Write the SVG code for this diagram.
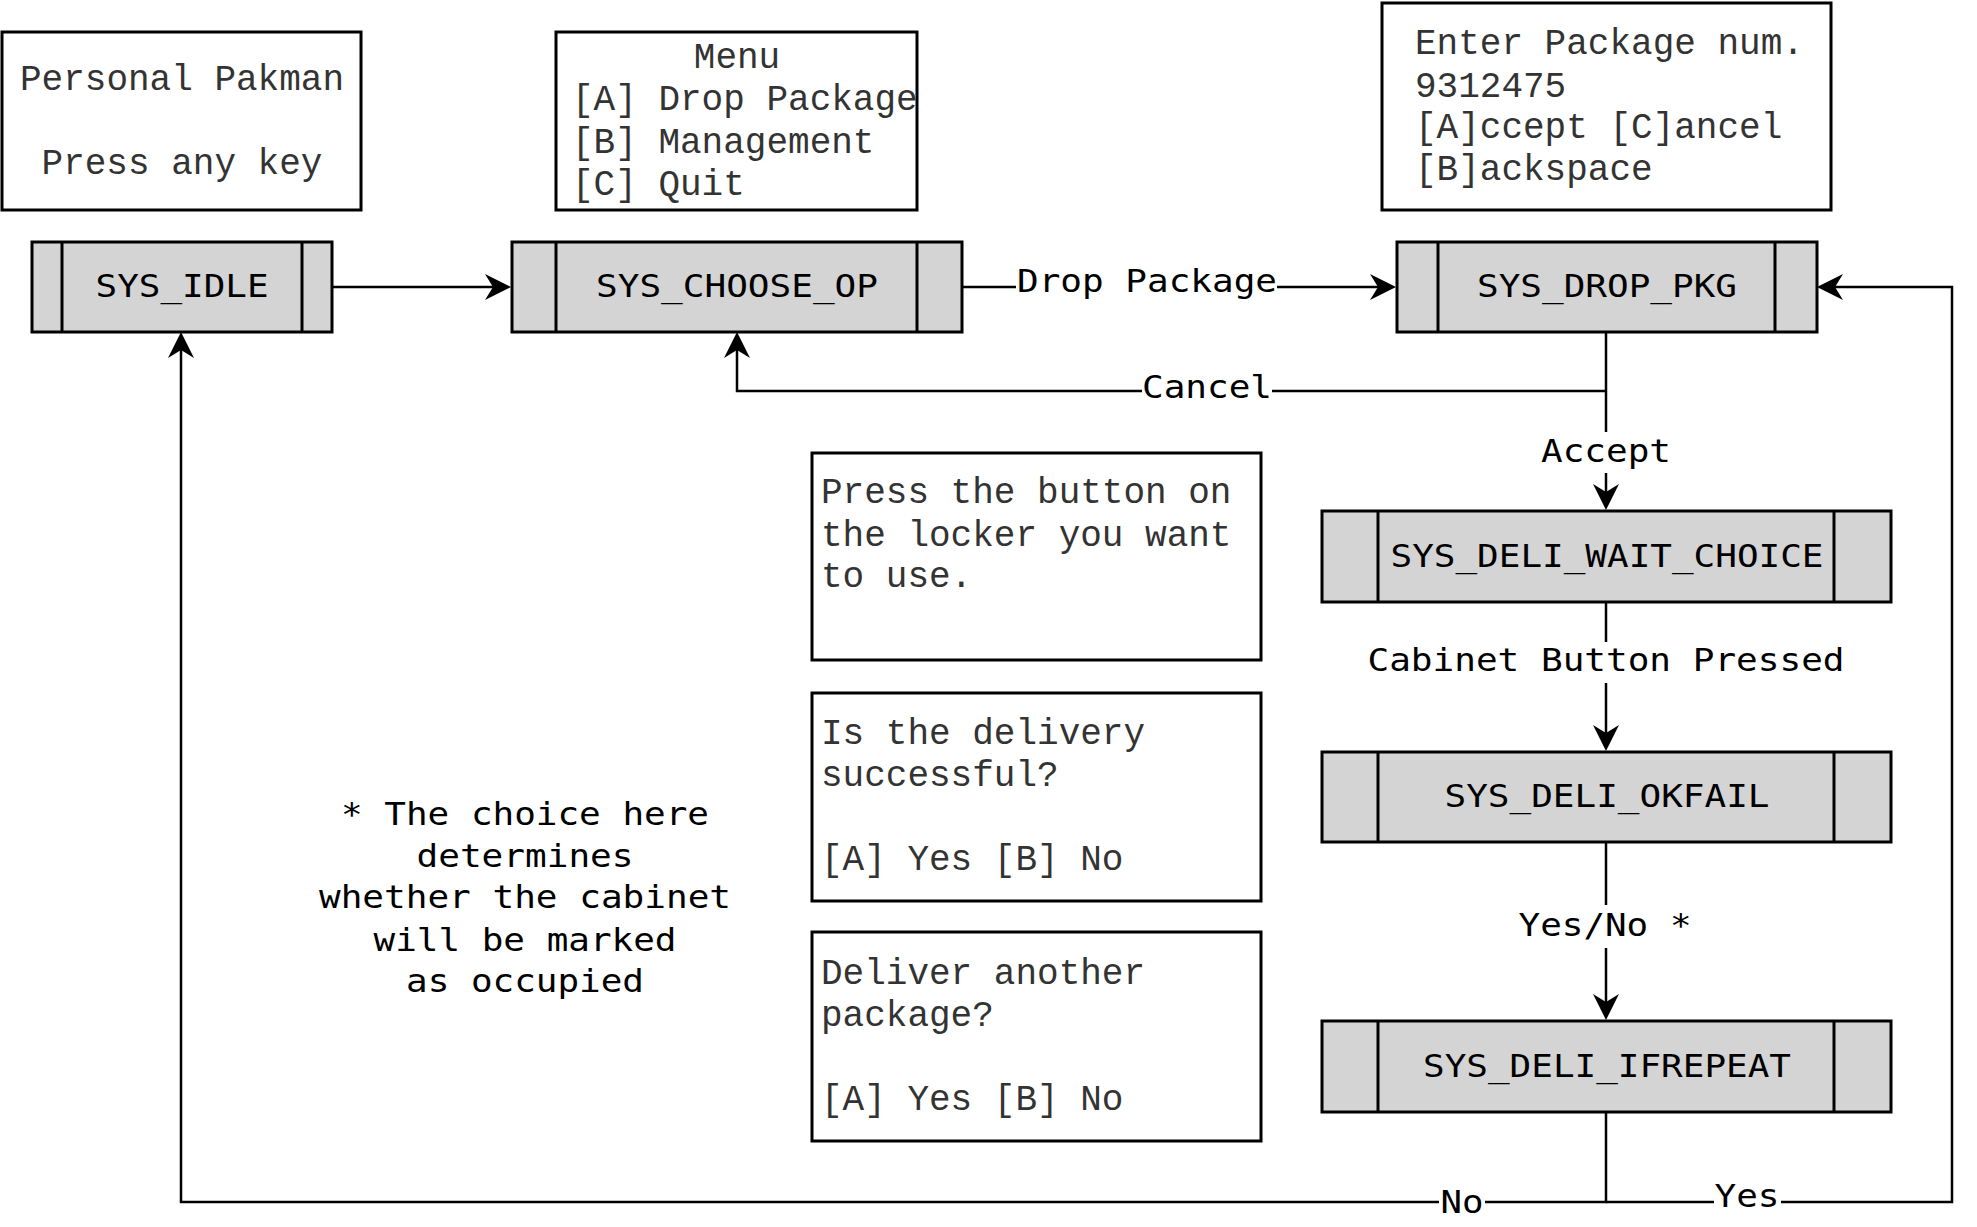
<svg xmlns="http://www.w3.org/2000/svg" width="1977" height="1227" viewBox="0 0 1977 1227">
<defs>
<style>
.screen{fill:#ffffff;stroke:#000;stroke-width:3}
.state{fill:#d4d4d4;stroke:#000;stroke-width:3}
.bar{stroke:#000;stroke-width:3;fill:none}
.st{font-family:'DejaVu Sans Mono',monospace;font-size:32px;fill:#000;text-anchor:middle}
.lbl{font-family:'DejaVu Sans Mono',monospace;font-size:32px;fill:#000;text-anchor:middle}
.scr{font-family:'Liberation Mono','Courier New',monospace;font-size:36px;fill:#333333}
.mid{text-anchor:middle}
.conn{fill:none;stroke:#000;stroke-width:2.5}
.lblbg{fill:#ffffff}
</style>
<marker id="arr" viewBox="-9 -14 28 28" markerWidth="28" markerHeight="28" refX="0" refY="0" orient="auto" markerUnits="userSpaceOnUse">
<path d="M18,0 L-8,-13 L0,0 L-8,13 Z" fill="#000"/>
</marker>
</defs>
<rect width="1977" height="1227" fill="#ffffff"/>

<g id="connectors">
<path class="conn" d="M332,287 H493" marker-end="url(#arr)"/>
<path class="conn" d="M962,287 H1378" marker-end="url(#arr)"/>
<path class="conn" d="M1606,391 H737 V350" marker-end="url(#arr)"/>
<path class="conn" d="M1606,332 V492" marker-end="url(#arr)"/>
<path class="conn" d="M1606,602 V733" marker-end="url(#arr)"/>
<path class="conn" d="M1606,842 V1002" marker-end="url(#arr)"/>
<path class="conn" d="M1606,1112 V1202 H181 V350" marker-end="url(#arr)"/>
<path class="conn" d="M1606,1202 H1952 V287 H1835" marker-end="url(#arr)"/>
<g id="edge-labels">
<rect class="lblbg" x="1016" y="268" width="261" height="30"/>
<text class="lbl" x="1147" y="292" textLength="260" lengthAdjust="spacingAndGlyphs">Drop Package</text>
<rect class="lblbg" x="1142" y="372" width="130" height="30"/>
<text class="lbl" x="1207" y="398" textLength="130" lengthAdjust="spacingAndGlyphs">Cancel</text>
<rect class="lblbg" x="1540" y="432" width="132" height="41"/>
<text class="lbl" x="1606" y="462" textLength="130" lengthAdjust="spacingAndGlyphs">Accept</text>
<rect class="lblbg" x="1364" y="642" width="486" height="41"/>
<text class="lbl" x="1606" y="671" textLength="477" lengthAdjust="spacingAndGlyphs">Cabinet Button Pressed</text>
<rect class="lblbg" x="1514" y="905" width="182" height="43"/>
<text class="lbl" x="1605" y="936" textLength="173" lengthAdjust="spacingAndGlyphs">Yes/No *</text>
<rect class="lblbg" x="1439" y="1188" width="46" height="30"/>
<text class="lbl" x="1462" y="1213" textLength="43" lengthAdjust="spacingAndGlyphs">No</text>
<rect class="lblbg" x="1714" y="1183" width="67" height="30"/>
<text class="lbl" x="1747" y="1207" textLength="65" lengthAdjust="spacingAndGlyphs">Yes</text>
</g>
</g>

<g id="screen-idle">
<rect class="screen" x="2" y="32" width="359" height="178"/>
<text class="scr mid" x="182" y="90">Personal Pakman</text>
<text class="scr mid" x="182" y="174">Press any key</text>
</g>

<g id="screen-menu">
<rect class="screen" x="556" y="32" width="361" height="178"/>
<text class="scr mid" x="737" y="68">Menu</text>
<text class="scr" x="572" y="110">[A] Drop Package</text>
<text class="scr" x="572" y="153">[B] Management</text>
<text class="scr" x="572" y="195">[C] Quit</text>
</g>

<g id="screen-drop">
<rect class="screen" x="1382" y="3" width="449" height="207"/>
<text class="scr" x="1415" y="54">Enter Package num.</text>
<text class="scr" x="1415" y="97">9312475</text>
<text class="scr" x="1415" y="138">[A]ccept [C]ancel</text>
<text class="scr" x="1415" y="180">[B]ackspace</text>
</g>

<g id="screen-wait">
<rect class="screen" x="812" y="453" width="449" height="207"/>
<text class="scr" x="821" y="503">Press the button on</text>
<text class="scr" x="821" y="546">the locker you want</text>
<text class="scr" x="821" y="587">to use.</text>
</g>

<g id="screen-okfail">
<rect class="screen" x="812" y="693" width="449" height="208"/>
<text class="scr" x="821" y="744">Is the delivery</text>
<text class="scr" x="821" y="786">successful?</text>
<text class="scr" x="821" y="870">[A] Yes [B] No</text>
</g>

<g id="screen-repeat">
<rect class="screen" x="812" y="932" width="449" height="209"/>
<text class="scr" x="821" y="984">Deliver another</text>
<text class="scr" x="821" y="1026">package?</text>
<text class="scr" x="821" y="1110">[A] Yes [B] No</text>
</g>

<g id="note">
<text class="lbl" x="525" y="825" textLength="368" lengthAdjust="spacingAndGlyphs">* The choice here</text>
<text class="lbl" x="525" y="867" textLength="217" lengthAdjust="spacingAndGlyphs">determines</text>
<text class="lbl" x="525" y="908" textLength="412" lengthAdjust="spacingAndGlyphs">whether the cabinet</text>
<text class="lbl" x="525" y="951" textLength="303" lengthAdjust="spacingAndGlyphs">will be marked</text>
<text class="lbl" x="525" y="992" textLength="238" lengthAdjust="spacingAndGlyphs">as occupied</text>
</g>

<g id="SYS_IDLE">
<rect class="state" x="32" y="242" width="300" height="90"/>
<path class="bar" d="M62,242 V332 M302,242 V332"/>
<text class="st" x="182" y="297" textLength="173" lengthAdjust="spacingAndGlyphs">SYS_IDLE</text>
</g>

<g id="SYS_CHOOSE_OP">
<rect class="state" x="512" y="242" width="450" height="90"/>
<path class="bar" d="M556,242 V332 M917,242 V332"/>
<text class="st" x="737" y="297" textLength="282" lengthAdjust="spacingAndGlyphs">SYS_CHOOSE_OP</text>
</g>

<g id="SYS_DROP_PKG">
<rect class="state" x="1397" y="242" width="420" height="90"/>
<path class="bar" d="M1438,242 V332 M1775,242 V332"/>
<text class="st" x="1607" y="297" textLength="260" lengthAdjust="spacingAndGlyphs">SYS_DROP_PKG</text>
</g>

<g id="SYS_DELI_WAIT_CHOICE">
<rect class="state" x="1322" y="511" width="569" height="91"/>
<path class="bar" d="M1378,511 V602 M1834,511 V602"/>
<text class="st" x="1607" y="567" textLength="433" lengthAdjust="spacingAndGlyphs">SYS_DELI_WAIT_CHOICE</text>
</g>

<g id="SYS_DELI_OKFAIL">
<rect class="state" x="1322" y="752" width="569" height="90"/>
<path class="bar" d="M1378,752 V842 M1834,752 V842"/>
<text class="st" x="1607" y="807" textLength="325" lengthAdjust="spacingAndGlyphs">SYS_DELI_OKFAIL</text>
</g>

<g id="SYS_DELI_IFREPEAT">
<rect class="state" x="1322" y="1021" width="569" height="91"/>
<path class="bar" d="M1378,1021 V1112 M1834,1021 V1112"/>
<text class="st" x="1607" y="1077" textLength="368" lengthAdjust="spacingAndGlyphs">SYS_DELI_IFREPEAT</text>
</g>
</svg>
